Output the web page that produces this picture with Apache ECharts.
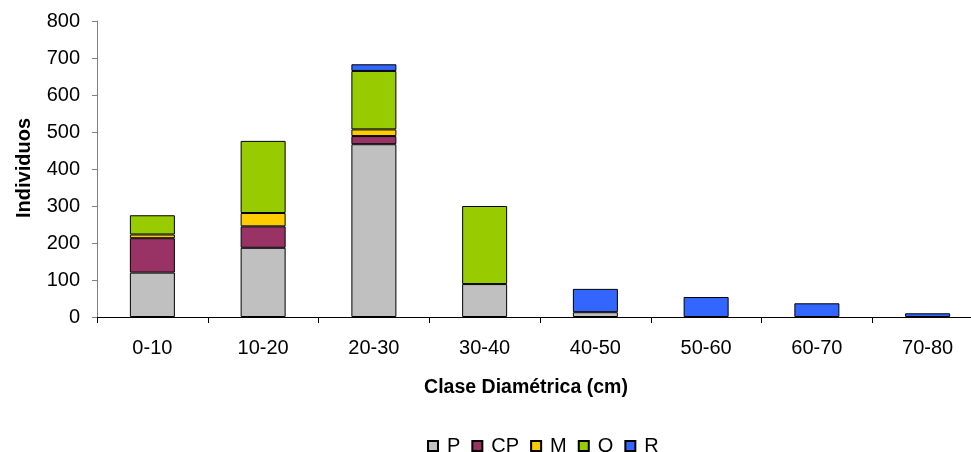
<!DOCTYPE html>
<html>
<head>
<meta charset="utf-8">
<script src="https://cdn.jsdelivr.net/npm/echarts@6/dist/echarts.min.js"></script>
<style>html,body{margin:0;padding:0;background:#fff;overflow:hidden}#c{width:1000px;height:452px}</style>
</head>
<body>
<div id="c"></div>
<script>
const categories = ['0-10','10-20','20-30','30-40','40-50','50-60','60-70','70-80'];
const seriesNames = ['P','CP','M','O','R'];
const P  = [120, 187, 467, 89, 13, null, null, null];
const CP = [93, 58, 22, null, null, null, null, null];
const M  = [10, 36, 18, null, null, null, null, null];
const O  = [52, 195, 158, 211, null, null, null, null];
const R  = [null, null, 18, null, 63, 54, 37, 10];
const yTicks = [0, 800, 100];
const colors = ['#C0C0C0', '#993366', '#FFCC00', '#99CC00', '#3366FF'];
const values = [P, CP, M, O, R];

const FONT = 'Liberation Sans, Arial, sans-serif';
const chart = echarts.init(document.getElementById('c'), null, {renderer: 'canvas'});
chart.setOption({
  animation: false,
  backgroundColor: '#fff',
  grid: {left: 97, width: 886, top: 21, bottom: 135, containLabel: false},
  legend: {
    data: seriesNames,
    top: 431,
    left: 422,
    itemWidth: 10, itemHeight: 10, itemGap: 11,
    icon: 'rect',
    textStyle: {fontFamily: FONT, fontSize: 20, color: '#000', padding: [0,0,0,4]}
  },
  xAxis: {
    type: 'category',
    data: categories,
    axisLine: {lineStyle: {color: '#000', width: 1}},
    axisTick: {show: true, length: 6, lineStyle: {color: '#000'}},
    axisLabel: {fontFamily: FONT, fontSize: 20, color: '#000', margin: 21}
  },
  yAxis: {
    type: 'value',
    min: yTicks[0], max: yTicks[1], interval: yTicks[2],
    axisLine: {show: true, lineStyle: {color: '#808080', width: 1}},
    axisTick: {show: true, length: 5, lineStyle: {color: '#808080'}},
    splitLine: {show: false},
    axisLabel: {fontFamily: FONT, fontSize: 20, color: '#000', margin: 17}
  },
  graphic: [{
    type: 'text',
    x: 526, y: 388,
    style: {text: 'Clase Diamétrica (cm)', font: 'bold 19.5px ' + FONT, fill: '#000', align: 'center', verticalAlign: 'middle'}
  }, {
    type: 'text',
    x: 24, y: 168,
    rotation: Math.PI / 2,
    style: {text: 'Individuos', font: 'bold 20px ' + FONT, fill: '#000', align: 'center', verticalAlign: 'middle'}
  }],
  series: seriesNames.map((n, i) => ({
    name: n,
    type: 'bar',
    stack: 'total',
    barWidth: 45,
    data: values[i],
    itemStyle: {color: colors[i], borderColor: '#000', borderWidth: 1}
  }))
});
</script>
</body>
</html>
